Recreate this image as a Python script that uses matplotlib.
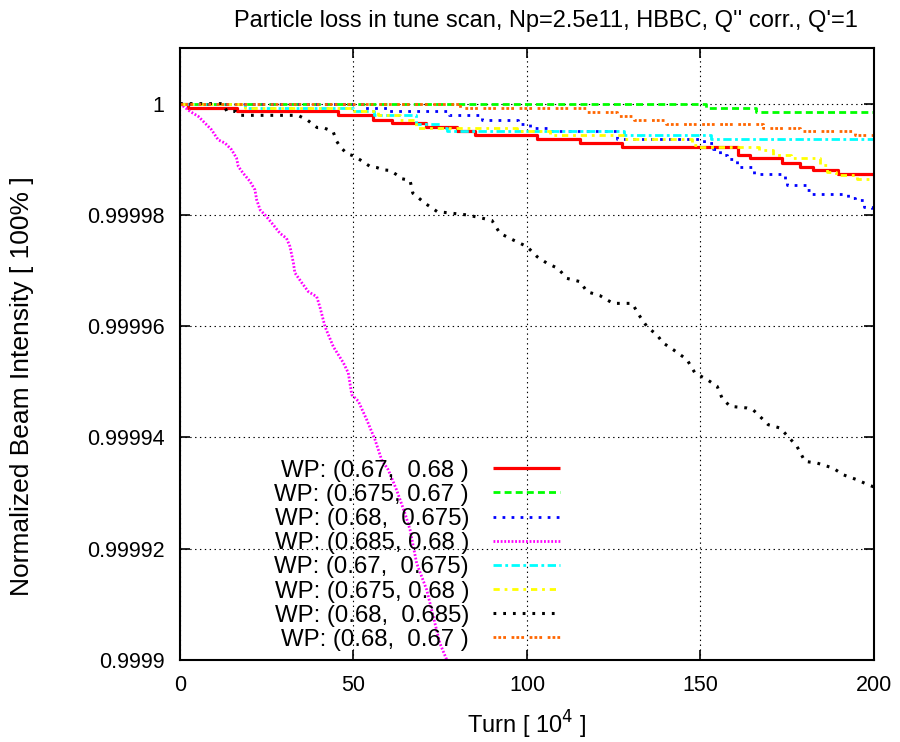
import matplotlib
matplotlib.use("Agg")
import matplotlib.pyplot as plt

plt.rcParams['font.family'] = ['Liberation Sans', 'DejaVu Sans']
plt.rcParams['lines.scale_dashes'] = False

# ---------------- data ----------------
labels = ["WP: (0.67,  0.68 )", "WP: (0.675, 0.67 )", "WP: (0.68,  0.675)",
          "WP: (0.685, 0.68 )", "WP: (0.67,  0.675)", "WP: (0.675, 0.68 )",
          "WP: (0.68,  0.685)", "WP: (0.68,  0.67 )"]

red_t = [0, 2.3, 16.3, 45.6, 55.5, 61, 71, 79.7, 85, 103, 115.3, 127.4, 160.9,
         164.3, 173.4, 178.7, 182.5, 189.7, 200]
red_v = [1.0, .9999992, .9999986, .9999979, .9999971, .9999965, .9999958, .9999951,
         .9999944, .9999937, .9999929, .9999922, .9999908, .9999902, .9999893,
         .9999887, .999988, .9999874, .9999874]

green_t = [0, 151.5, 166, 200]
green_v = [1.0, .9999992, .9999985, .9999985]

blue_t = [0, 53, 60, 77.5, 87, 97.5, 101, 107, 126, 151, 153.5, 155.5, 157.5, 160.5,
          165.5, 174.3, 175, 180.5, 182, 192.5, 194.5, 197, 199.3, 200]
blue_v = [1.0, .9999992, .9999986, .9999979, .9999971, .9999964, .9999957, .999995,
          .9999937, .9999929, .9999918, .9999908, .9999901, .9999886, .9999874,
          .9999865, .9999853, .9999845, .9999838, .9999831, .9999827, .9999815,
          .9999809, .9999809]

magenta_t = [0, 2.9, 5.3, 7.2, 9.1, 11.0, 13.0, 14.9, 16.3, 16.8, 18.2, 20.2, 21.6,
             22.1, 23.1, 24.5, 26.9, 28.8, 30.7, 31.7, 32.7, 33.1, 35.1, 37.0, 39.4,
             40.3, 41.8, 44.2, 47.1, 48.5, 49.5, 51.4, 53.8, 56.2, 58.1, 60.0, 62.4,
             64.8, 66.3, 68.2, 71.1, 73.0, 74.9, 76.9, 78]
magenta_v = [1.0, .9999986, .9999977, .9999965, .9999953, .9999935, .9999929, .9999917,
             .9999902, .9999887, .9999875, .999986, .9999845, .9999827, .9999809,
             .99998, .9999782, .9999767, .9999758, .9999743, .9999713, .9999696,
             .9999678, .9999662, .9999653, .9999635, .9999599, .9999563, .9999534,
             .9999516, .9999477, .9999465, .9999432, .9999396, .999936, .9999342,
             .9999306, .9999264, .9999234, .9999174, .9999126, .9999078, .999903,
             .9999, .9998982]

cyan_t = [0, 18.7, 50, 56, 68, 75, 77, 128, 153, 200]
cyan_v = [1.0, .9999992, .9999986, .9999979, .9999964, .9999956, .9999951, .9999944,
          .9999937, .9999937]

yellow_t = [0, 18.7, 49.5, 57, 63.4, 68, 97, 106.6, 128, 147.5, 149, 167, 171, 176,
            184.4, 186.4, 189, 195, 200]
yellow_v = [1.0, .9999992, .9999986, .9999979, .9999971, .9999956, .999995, .9999943,
            .9999937, .9999926, .9999922, .9999917, .9999908, .9999902, .999989,
            .9999878, .9999872, .9999865, .9999865]

black_t = [0, 12.5, 13.5, 16, 17, 34, 36.6, 39.5, 41.2, 44.1, 45.2, 46.1, 48.1, 49.6,
           51.9, 54.8, 56.8, 58.5, 60.5, 62.5, 64, 66.3, 67.1, 70.6, 74.1, 79.8, 82.7,
           86.5, 89.9, 92.2, 96, 100, 102.9, 105.8, 108.9, 111.5, 115.3, 117.3, 121,
           124.8, 130.3, 132.6, 134.6, 137.5, 139.2, 142.1, 146.1, 148.4, 151.9, 154.8,
           156.2, 158.5, 163.4, 165.1, 167.1, 169.5, 172.9, 175.2, 177.8, 180.1, 183.6,
           188.2, 191.1, 195.1, 198.3, 200]
black_v = [1.0, 1.0, .9999986, .9999986, .9999979, .9999979, .9999971, .9999957,
           .9999957, .999995, .9999932, .9999923, .999991, .9999907, .9999899, .9999887,
           .9999885, .9999881, .999988, .9999872, .9999865, .9999862, .9999839,
           .9999821, .9999806, .9999802, .99998, .9999795, .999979, .9999767, .9999755,
           .9999743, .9999725, .9999713, .9999704, .9999686, .999968, .9999662,
           .9999655, .9999641, .9999641, .9999617, .9999599, .9999584, .999957,
           .9999558, .999954, .9999516, .9999504, .9999492, .9999471, .9999456,
           .9999453, .999945, .9999438, .9999423, .9999417, .9999402, .9999384,
           .9999357, .9999354, .9999345, .9999333, .9999324, .9999315, .9999311]

orange_t = [0, 80.7, 117, 126, 130.8, 140, 168, 178.7, 194.5, 200]
orange_v = [1.0, .9999992, .9999985, .9999978, .9999971, .9999964, .9999957, .999995,
            .9999943, .9999943]

x_ticks = [0, 50, 100, 150, 200]
y_ticks = [0.9999, 0.99992, 0.99994, 0.99996, 0.99998, 1.0]
y_tick_labels = ["0.9999", "0.99992", "0.99994", "0.99996", "0.99998", "1"]

# ---------------- figure ----------------
fig = plt.figure(figsize=(9, 7.42), dpi=100)
ax = fig.add_axes([0.2, 0.1105, 0.7711, 0.8248])

series = [
    (red_t, red_v, "#ff0000", 2.3, None, True),
    (green_t, green_v, "#00ff00", 2.0, (0, (5, 3)), True),
    (blue_t, blue_v, "#0000ff", 2.0, (0, (2, 4.5)), True),
    (magenta_t, magenta_v, "#ff00ff", 2.0, (0, (1.3, 1.3)), False),
    (cyan_t, cyan_v, "#00ffff", 2.0, (0, (6, 2.5, 2, 2.5)), True),
    (yellow_t, yellow_v, "#ffff00", 2.0, (0, (4.5, 3.5, 2, 3.5)), True),
    (black_t, black_v, "#000000", 2.2, (0, (2, 5)), False),
    (orange_t, orange_v, "#ff6600", 2.0, (0, (2, 1.5, 2, 1.5, 2, 4)), True),
]
for (t, v, c, lw, ls, step), lab in zip(series, labels):
    kw = dict(color=c, lw=lw, label=lab, solid_capstyle='butt', dash_capstyle='butt')
    if ls is not None:
        kw['linestyle'] = ls
    if step:
        kw['drawstyle'] = 'steps-post'
    ax.plot(t, v, **kw)

ax.set_xlim(0, 200)
ax.set_ylim(0.9999, 1.00001)
ax.set_xticks(x_ticks)
ax.set_xticklabels([str(x) for x in x_ticks])
ax.set_yticks(y_ticks)
ax.set_yticklabels(y_tick_labels)
ax.grid(True, color='black', linestyle=(0, (1, 2.5)), linewidth=0.8)
ax.tick_params(direction='in', length=7, width=1.2, top=True, right=True,
               labelsize=15.5, pad=11)
for s in ax.spines.values():
    s.set_linewidth(1.5)

ax.set_xlabel("Turn [ 10$^4$ ]", fontsize=17, labelpad=9)
ax.set_ylabel("Normalized Beam Intensity [ 100% ]", fontsize=19)
ax.yaxis.set_label_coords(-0.21, 0.448)
ax.set_title("Particle loss in tune scan, Np=2.5e11, HBBC, Q'' corr., Q'=1",
             fontsize=17, pad=15, x=0.527)

leg = ax.legend(loc='lower right', bbox_to_anchor=(0.548, 0.015), frameon=False,
                markerfirst=False, fontsize=17.3, handlelength=2.8, handletextpad=1.0,
                labelspacing=0.09, borderpad=0, borderaxespad=0)

fig.savefig("out.png", dpi=100)
